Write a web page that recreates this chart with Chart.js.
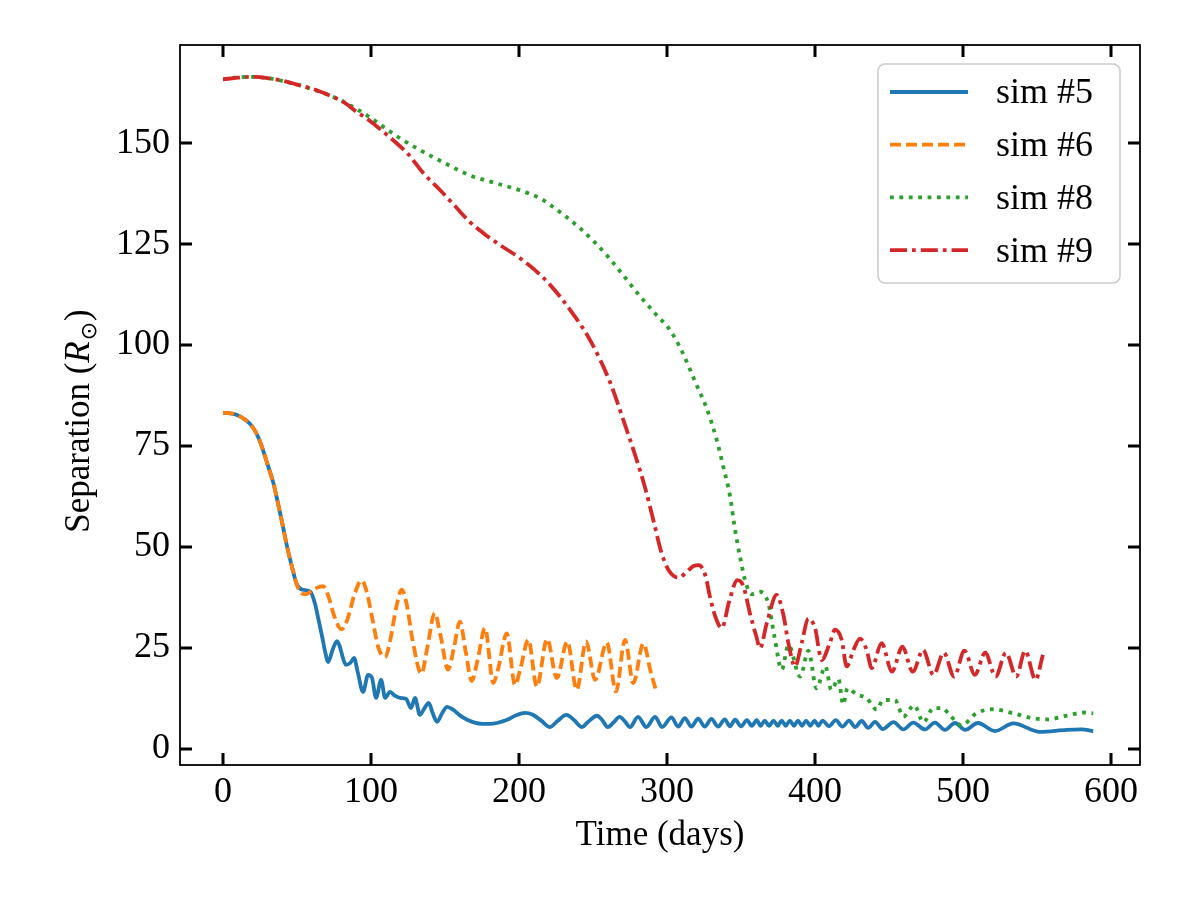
<!DOCTYPE html>
<html>
<head>
<meta charset="utf-8">
<script src="https://cdn.jsdelivr.net/npm/chart.js@4/dist/chart.umd.min.js"></script>
<style>
  html, body { margin: 0; padding: 0; background: #fff; }
  canvas { display: block; }
</style>
</head>
<body>
<canvas id="sepChart" width="1200" height="900"></canvas>
<script>
// values (time in days, separation in solar radii)
var xTicks = [0, 100, 200, 300, 400, 500, 600];
var yTicks = [0, 25, 50, 75, 100, 125, 150];

var sim5T = [0, 5, 9.5, 15, 20, 24, 27, 30, 34, 37, 40.5, 43, 46.6, 50, 54, 59, 62, 64.5, 67, 69, 71, 74, 77, 79, 81, 83, 86, 88.5, 91, 94.6,
  98, 100.6, 103.4, 106.8, 109.5, 112.8, 116, 119.6, 123.6, 127, 129.7, 133, 136, 139, 141.5, 144.6, 148, 151.4, 155.4, 160,
  165, 170, 175, 180, 185, 192, 198, 204, 209, 215, 221, 226, 232, 237, 242.5, 247, 252.7, 256, 260, 264, 268, 271.5, 275,
  280.4, 286, 292, 296.6, 303, 307.5, 312, 316.5, 321, 325.5, 330, 334.5, 339, 342.5, 346, 350, 354, 357.3, 360.6, 363.3,
  366, 369, 372, 374.8, 377.5, 380.2, 383, 385.8, 388.5, 391.2, 394, 396.8, 399.7, 402.3, 405, 409.5, 414, 418.5, 423, 427,
  431.5, 436, 440.5, 445.7, 453, 459.7, 466.4, 474.3, 481, 487.8, 494.6, 501.4, 510, 521.6, 534, 552, 570, 580, 588];
var sim5Sep = [83.2, 83.1, 82.7, 81.5, 79.7, 77, 74, 70.5, 65.8, 61, 55, 50.5, 45, 40.6, 39.4, 38.9, 36.1, 32, 27.7, 24, 21.5, 24.5, 26.7, 25.2, 22.5, 20.8, 21.3, 22.5, 19, 14.1,
  18.3, 17.6, 12.6, 17.1, 12.6, 14.1, 13.2, 12.6, 12.4, 10.1, 12.6, 8.4, 10, 11.4, 9, 6.7, 8.8, 10.4, 9.7, 8.3,
  7.2, 6.5, 6.2, 6.2, 6.4, 7.2, 8.3, 8.9, 8.5, 7, 5.4, 6.9, 8.4, 7.2, 5.4, 6.8, 8.2, 7.2, 5.4, 6.6, 7.9, 6.8, 5.4,
  7.9, 5.4, 7.9, 5.4, 7.8, 5.5, 7.6, 5.5, 7.5, 5.5, 7.4, 5.5, 7.3, 5.6, 7.2, 5.6, 7.1, 5.7, 7.1, 5.7,
  7.0, 5.7, 7.0, 5.7, 7.0, 5.7, 7.0, 5.7, 7.0, 5.7, 7.0, 5.7, 7.0, 5.7, 7.0, 5.6, 7.1, 5.5, 7.0, 5.4,
  6.9, 5.2, 6.7, 4.9, 6.6, 4.8, 6.5, 4.8, 6.5, 4.7, 6.4, 4.7, 6.4, 4.4, 6.3, 4.2, 4.7, 4.8, 4.4];

var sim6T = [0, 5, 9.5, 15, 20, 24, 27, 30, 34, 37, 40.5, 43, 46.6, 50, 53, 56, 59, 63, 67.6, 71, 75, 80, 84, 89, 93.7, 97, 101, 105,
  109.5, 113, 117, 120.7, 124, 128, 134, 138, 143, 147, 152, 156, 160, 164, 168, 172, 177, 182.6, 186, 191.7, 197.3, 201,
  206.3, 212, 219, 225.5, 232.6, 239, 245.3, 251.4, 259.3, 265.5, 271.6, 277.2, 284, 289, 293];
var sim6Sep = [83.2, 83.1, 82.7, 81.5, 79.7, 77, 74, 70.5, 65.8, 61, 55, 50.5, 45, 40.5, 38.5, 38.3, 38.9, 39.8, 40.3, 38, 33, 29.6, 32, 38.5, 41.7, 39, 32, 25,
  22.7, 27, 35, 39.4, 36, 27, 18.6, 25, 33.6, 28, 19.6, 25, 31.5, 24, 16.8, 22, 29.9, 16.3, 20, 28.6, 15.8, 20,
  27, 15.4, 27.2, 17.5, 26.6, 14.6, 26.6, 17.1, 26.3, 14.2, 27, 16.3, 26.1, 19, 13.9];

var sim8T = [0, 10, 20, 30, 40, 50, 60, 70, 80, 90, 100, 110, 120, 133, 150, 167, 185, 200, 215, 221, 231, 241, 251, 261, 271,
  281, 292, 302, 310, 319, 326.8, 333.6, 338, 342.6, 346, 349.3, 352.7, 357, 362.8, 368.4, 372.5, 377.5, 382, 390, 395.5,
  401, 407, 411, 415.8, 419, 422, 428, 435, 441.7, 446, 454, 459.7, 467, 473.2, 480, 486, 491, 499, 509, 520, 534, 547,
  557, 570, 581, 588];
var sim8Sep = [165.8, 166.3, 166.4, 166.1, 165.4, 164.5, 163.4, 162.1, 160.5, 158.5, 156.2, 153.6, 151.1, 148.3, 145, 142, 140, 138.4, 136.2, 134.7, 132, 129, 125.5, 121.5, 117,
  112.4, 107.8, 103.7, 98.5, 90.9, 84.3, 76.5, 69.9, 62.5, 54.2, 47.6, 41.8, 38.3, 38.9, 36.1, 28, 19.6, 25.7, 17.9, 24.3,
  15, 20.4, 14.6, 17.3, 11, 15, 13.5, 12.5, 9.7, 12.1, 12.1, 8, 10.8, 6.6, 10.1, 10.1, 8.4, 5.8, 8.8, 9.8, 8.8, 7.6,
  7.3, 8.2, 9, 8.8];

var sim9T = [0, 10, 19.4, 30, 40.8, 52, 63.3, 72, 81.3, 90, 97, 106, 115, 125, 135, 146.6, 157, 167, 177, 187, 200.7, 211, 221,
  234.5, 248, 261.5, 270.5, 278.4, 285, 290.7, 296.4, 301, 307.7, 313.3, 318, 321.5, 326, 329, 332.4, 337, 342, 347.5,
  351.6, 356, 360.6, 362.8, 367.4, 374.1, 378.6, 382, 386.5, 391, 395.5, 400, 404.5, 410, 413.5, 418, 421.4, 426, 430.4,
  434.9, 438.3, 445, 452, 459, 466, 473, 480, 487, 494, 501, 508, 515, 522, 529, 536, 542, 549, 554];
var sim9Sep = [165.8, 166.2, 166.4, 166.1, 165.4, 164.3, 163.1, 161.8, 160.2, 157.8, 156.1, 153.5, 150.7, 147.3, 142.7, 138.4, 134.3, 130.4, 127.4, 124.8, 121.5, 118.5, 114.9,
  108.7, 101.2, 90.8, 81.4, 72.8, 64.9, 56.7, 48.4, 44.3, 42.4, 43.8, 45.3, 45.5, 42.8, 37.7, 33, 29.9, 36.5, 41.8,
  40.3, 33.6, 27.5, 24.9, 31.1, 38.1, 33.2, 26.2, 20.4, 26.2, 32.3, 29.9, 22, 26.2, 29.5, 27, 20.4, 24.5, 27.3,
  24.5, 20, 26.2, 19.1, 25.3, 19.1, 24.5, 18.3, 23.8, 17.9, 24.3, 18.3, 23.8, 17.9, 23.8, 17.9, 24.3, 17.1, 23.3];

var labels = ['sim #5', 'sim #6', 'sim #8', 'sim #9'];
var colors = ['#1f77b4', '#ff7f0e', '#2ca02c', '#d62728'];
var dashes = [[], [11, 5], [3.8, 5.6], [17, 5, 3.8, 5]];

var FONT = '"Liberation Serif", "DejaVu Serif", serif';

function pts(t, v) {
  return t.map(function (x, i) { return { x: x, y: v[i] }; });
}

function mkSet(i, t, v) {
  return {
    label: labels[i],
    data: pts(t, v),
    borderColor: colors[i],
    borderWidth: 3.8,
    borderDash: dashes[i],
    borderCapStyle: 'butt',
    pointRadius: 0,
    fill: false,
    cubicInterpolationMode: 'monotone',
    order: 4 - i
  };
}

// frame, inward ticks on all four sides, axis titles and the legend box
var decor = {
  id: 'decor',
  afterDraw: function (chart) {
    var ctx = chart.ctx, a = chart.chartArea, sx = chart.scales.x, sy = chart.scales.y;
    ctx.save();
    ctx.strokeStyle = '#000';
    ctx.lineWidth = 3;
    ctx.beginPath();
    xTicks.forEach(function (v) {
      var p = Math.round(sx.getPixelForValue(v));
      ctx.moveTo(p, a.bottom); ctx.lineTo(p, a.bottom - 12);
      ctx.moveTo(p, a.top); ctx.lineTo(p, a.top + 12);
    });
    yTicks.forEach(function (v) {
      var p = Math.round(sy.getPixelForValue(v));
      ctx.moveTo(a.left, p); ctx.lineTo(a.left + 12, p);
      ctx.moveTo(a.right, p); ctx.lineTo(a.right - 12, p);
    });
    ctx.stroke();
    ctx.lineWidth = 1.8;
    ctx.strokeRect(a.left, a.top, a.right - a.left, a.bottom - a.top);

    // axis titles
    ctx.fillStyle = '#000';
    ctx.font = '35px ' + FONT;
    ctx.textAlign = 'center';
    ctx.textBaseline = 'alphabetic';
    ctx.fillText('Time (days)', (a.left + a.right) / 2, 845);

    ctx.translate(89, (a.top + a.bottom) / 2 + 16);
    ctx.rotate(-Math.PI / 2);
    var p1 = 'Separation (', p2 = 'R', p3 = '\u2299', p4 = ')';
    ctx.font = '35px ' + FONT; var w1 = ctx.measureText(p1).width, w4 = ctx.measureText(p4).width;
    ctx.font = 'italic 35px ' + FONT; var w2 = ctx.measureText(p2).width;
    ctx.font = '22px "DejaVu Sans", sans-serif'; var w3 = ctx.measureText(p3).width;
    var x0 = -(w1 + w2 + w3 + w4 + 2) / 2;
    ctx.textAlign = 'left';
    ctx.font = '35px ' + FONT; ctx.fillText(p1, x0, 0);
    ctx.font = 'italic 35px ' + FONT; ctx.fillText(p2, x0 + w1, 0);
    ctx.font = '22px "DejaVu Sans", sans-serif'; ctx.fillText(p3, x0 + w1 + w2 + 1, 7);
    ctx.font = '35px ' + FONT; ctx.fillText(p4, x0 + w1 + w2 + w3 + 2, 0);
    ctx.restore();

    // legend
    ctx.save();
    var bx = 878, by = 64, bw = 242, bh = 219, r = 7;
    ctx.beginPath();
    ctx.moveTo(bx + r, by);
    ctx.arcTo(bx + bw, by, bx + bw, by + bh, r);
    ctx.arcTo(bx + bw, by + bh, bx, by + bh, r);
    ctx.arcTo(bx, by + bh, bx, by, r);
    ctx.arcTo(bx, by, bx + bw, by, r);
    ctx.closePath();
    ctx.fillStyle = 'rgba(255,255,255,0.8)';
    ctx.fill();
    ctx.strokeStyle = '#cccccc';
    ctx.lineWidth = 1.6;
    ctx.stroke();
    chart.data.datasets.forEach(function (ds, i) {
      var yy = 92 + i * 52.7;
      ctx.strokeStyle = ds.borderColor;
      ctx.lineWidth = ds.borderWidth;
      ctx.setLineDash(ds.borderDash);
      ctx.beginPath();
      ctx.moveTo(890, yy); ctx.lineTo(968, yy);
      ctx.stroke();
      ctx.setLineDash([]);
      ctx.fillStyle = '#000';
      ctx.font = '36px ' + FONT;
      ctx.textAlign = 'left';
      ctx.textBaseline = 'middle';
      ctx.fillText(ds.label, 996, yy + 2);
    });
    ctx.restore();
  }
};

new Chart(document.getElementById('sepChart').getContext('2d'), {
  type: 'line',
  data: {
    datasets: [
      mkSet(0, sim5T, sim5Sep),
      mkSet(1, sim6T, sim6Sep),
      mkSet(2, sim8T, sim8Sep),
      mkSet(3, sim9T, sim9Sep)
    ]
  },
  options: {
    responsive: false,
    animation: false,
    devicePixelRatio: 1,
    layout: { padding: { top: 45, right: 60, left: 0, bottom: 0 } },
    plugins: { legend: { display: false }, tooltip: { enabled: false } },
    scales: {
      x: {
        type: 'linear',
        min: -29.1,
        max: 619.6,
        grid: { display: false, drawTicks: false, tickLength: 0 },
        border: { display: false },
        afterBuildTicks: function (s) { s.ticks = xTicks.map(function (v) { return { value: v }; }); },
        afterFit: function (s) { s.height = 135; },
        ticks: { color: '#000', padding: 6, maxRotation: 0, font: { family: FONT, size: 36 } }
      },
      y: {
        type: 'linear',
        min: -4,
        max: 174.3,
        grid: { display: false, drawTicks: false, tickLength: 0 },
        border: { display: false },
        afterBuildTicks: function (s) { s.ticks = yTicks.map(function (v) { return { value: v }; }); },
        afterFit: function (s) { s.width = 180; },
        ticks: { color: '#000', padding: 10, font: { family: FONT, size: 36 } }
      }
    }
  },
  plugins: [decor]
});
</script>
</body>
</html>
